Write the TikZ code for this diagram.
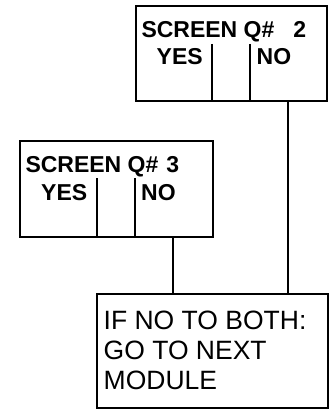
\documentclass[tikz,border=0pt]{standalone}
\usepackage{fontspec}
\setmainfont{Liberation Sans}
\begin{document}
\begin{tikzpicture}[x=1pt,y=-1pt,
  box/.style={draw=black,line width=2pt,rectangle,inner sep=0pt,anchor=north west},
  divider/.style={draw=black,line width=1.8pt},
  conn/.style={draw=black,line width=1.8pt},
  btxt/.style={anchor=base west,inner sep=0pt,font=\fontsize{23}{27}\selectfont\bfseries},
  rtxt/.style={anchor=base west,inner sep=0pt,font=\fontsize{26.5}{30}\selectfont}]
\useasboundingbox (0,0) rectangle (333,409);
% boxes
\node[box,minimum width=191pt,minimum height=95pt] (q2) at (135,5) {};
\node[box,minimum width=193pt,minimum height=96pt] (q3) at (19,140) {};
\node[box,minimum width=231pt,minimum height=114pt] (end) at (96,293) {};
% Q2 texts
\node[btxt] (q2t) at (141.3,37.5) {SCREEN Q\#\hspace{19pt}2};
\node[btxt] (q2y) at (156.5,65) {YES};
\node[btxt] (q2n) at (256.5,65) {NO};
\coordinate (q2d1) at (212,44);
\coordinate (q2d2) at (250,44);
\draw[divider] (q2d1) -- (q2d1 |- q2.south);
\draw[divider] (q2d2) -- (q2d2 |- q2.south);
% Q3 texts
\node[btxt] (q3t) at (25.3,172.7) {SCREEN Q\#\hspace{8pt}3};
\node[btxt] (q3y) at (41,200) {YES};
\node[btxt] (q3n) at (141,200) {NO};
\coordinate (q3d1) at (97,178);
\coordinate (q3d2) at (135,178);
\draw[divider] (q3d1) -- (q3d1 |- q3.south);
\draw[divider] (q3d2) -- (q3d2 |- q3.south);
% end texts
\node[rtxt] (e1) at (103.5,329) {IF NO TO BOTH:};
\node[rtxt] (e2) at (103.5,359) {GO TO NEXT};
\node[rtxt] (e3) at (103.5,389) {MODULE};
% connectors
\coordinate (c1) at (173,0);
\coordinate (c2) at (288,0);
\draw[conn] (q3.south -| c1) -- (end.north -| c1);
\draw[conn] (q2.south -| c2) -- (end.north -| c2);
\end{tikzpicture}
\end{document}
